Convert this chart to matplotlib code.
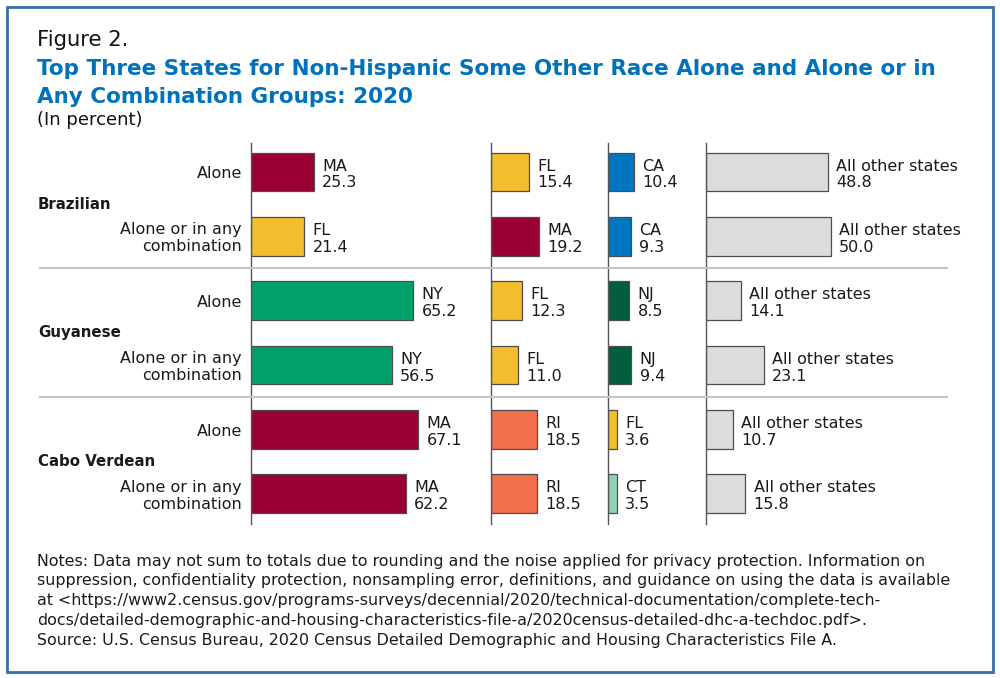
import matplotlib
matplotlib.use("Agg")
import matplotlib.pyplot as plt
from matplotlib.patches import Rectangle
from matplotlib.lines import Line2D
from matplotlib.transforms import blended_transform_factory

# ==========================================
# Data (percent)
# ==========================================
groups = ["Brazilian", "Guyanese", "Cabo Verdean"]
row_labels = ["Alone", "Alone or in any\ncombination"] * 3

first_states = ["MA", "FL", "NY", "NY", "MA", "MA"]
first_values = [25.3, 21.4, 65.2, 56.5, 67.1, 62.2]
second_states = ["FL", "MA", "FL", "FL", "RI", "RI"]
second_values = [15.4, 19.2, 12.3, 11.0, 18.5, 18.5]
third_states = ["CA", "CA", "NJ", "NJ", "FL", "CT"]
third_values = [10.4, 9.3, 8.5, 9.4, 3.6, 3.5]
other_label = "All other states"
other_values = [48.8, 50.0, 14.1, 23.1, 10.7, 15.8]

state_colors = {
    "MA": "#9a0036",
    "FL": "#f3be2e",
    "CA": "#0076c0",
    "NY": "#00a06b",
    "NJ": "#005e3d",
    "RI": "#f2704b",
    "CT": "#92d0b5",
    "other": "#dcdcdd",
}

title_lines = ["Top Three States for Non-Hispanic Some Other Race Alone and Alone or in",
               "Any Combination Groups: 2020"]
note_lines = [
    "Notes: Data may not sum to totals due to rounding and the noise applied for privacy protection. Information on",
    "suppression, confidentiality protection, nonsampling error, definitions, and guidance on using the data is available",
    "at <https://www2.census.gov/programs-surveys/decennial/2020/technical-documentation/complete-tech-",
    "docs/detailed-demographic-and-housing-characteristics-file-a/2020census-detailed-dhc-a-techdoc.pdf>.",
]
source = "Source: U.S. Census Bureau, 2020 Census Detailed Demographic and Housing Characteristics File A."

# ==========================================
# Layout
# ==========================================
plt.rcParams["font.family"] = ["DejaVu Sans"]
W, H = 1000, 678
fig = plt.figure(figsize=(W / 100, H / 100), dpi=100)

px_per_unit = 2.49
ax_bottom, ax_top = 524, 143
# left edge and width in pixels of the four panels
panels = [(251, 240), (491, 117), (608, 98), (706, 260)]
panel_data = [
    (first_states, first_values),
    (second_states, second_values),
    (third_states, third_values),
    ([other_label] * 6, other_values),
]

ypos = list(range(len(row_labels)))
axes = []
for (left, width), (names, vals) in zip(panels, panel_data):
    ax = fig.add_axes([left / W, 1 - ax_bottom / H, width / W, (ax_bottom - ax_top) / H])
    cols = [state_colors["other"] if n == other_label else state_colors[n] for n in names]
    ax.barh(ypos, vals, height=0.6, color=cols, edgecolor="#4d4d4d", linewidth=0.9)
    for y, n, v in zip(ypos, names, vals):
        ax.annotate(f"{n}\n{v:.1f}", xy=(v, y + 0.04), xytext=(6, 0),
                    textcoords="offset points", ha="left", va="center",
                    fontsize=11.5, color="#1a1a1a", linespacing=1.15)
    ax.set_xlim(0, width / px_per_unit)
    ax.set_ylim(5.47, -0.45)
    for s in ["top", "right", "bottom"]:
        ax.spines[s].set_visible(False)
    ax.spines["left"].set_color("#555555")
    ax.spines["left"].set_linewidth(1.0)
    ax.set_xticks([])
    ax.set_yticks([])
    ax.patch.set_visible(False)
    axes.append(ax)

ax1 = axes[0]
trans = blended_transform_factory(fig.transFigure, ax1.transData)

# row labels and group labels
for y, lab in zip(ypos, row_labels):
    ax1.text(0.242, y + 0.03, lab, transform=trans, ha="right", va="center",
             fontsize=11.5, color="#1a1a1a", multialignment="right", linespacing=1.15)
for i, g in enumerate(groups):
    ax1.text(0.038, 2 * i + 0.5, g, transform=trans, ha="left", va="center",
             fontsize=10.8, fontweight="bold", color="#1a1a1a")

# separators between groups
for i in range(1, len(groups)):
    fig.add_artist(Line2D([0.040, 0.947], [2 * i - 0.5] * 2, transform=trans,
                          color="#c4c4c4", linewidth=1.5, clip_on=False))

# titles
fig.text(0.037, 1 - 46 / H, "Figure 2.", fontsize=15.2, color="#111111", va="baseline")
for line, base in zip(title_lines, [75, 103]):
    fig.text(0.037, 1 - base / H, line, fontsize=15.5, fontweight="bold",
             color="#0072bc", va="baseline")
fig.text(0.037, 1 - 125 / H, "(In percent)", fontsize=13, color="#111111", va="baseline")

# notes and source
for line, base in zip(note_lines, [566, 585.5, 605, 624.5]):
    fig.text(0.037, 1 - base / H, line, fontsize=11.4, color="#1a1a1a", va="baseline")
fig.text(0.037, 1 - 645 / H, source, fontsize=11.4, color="#1a1a1a", va="baseline")

# outer frame
fig.add_artist(Rectangle((7 / W, 1 - 672 / H), 986 / W, 665 / H, transform=fig.transFigure,
                         fill=False, edgecolor="#3b6ea8", linewidth=2))

fig.savefig("out.png", dpi=100)
